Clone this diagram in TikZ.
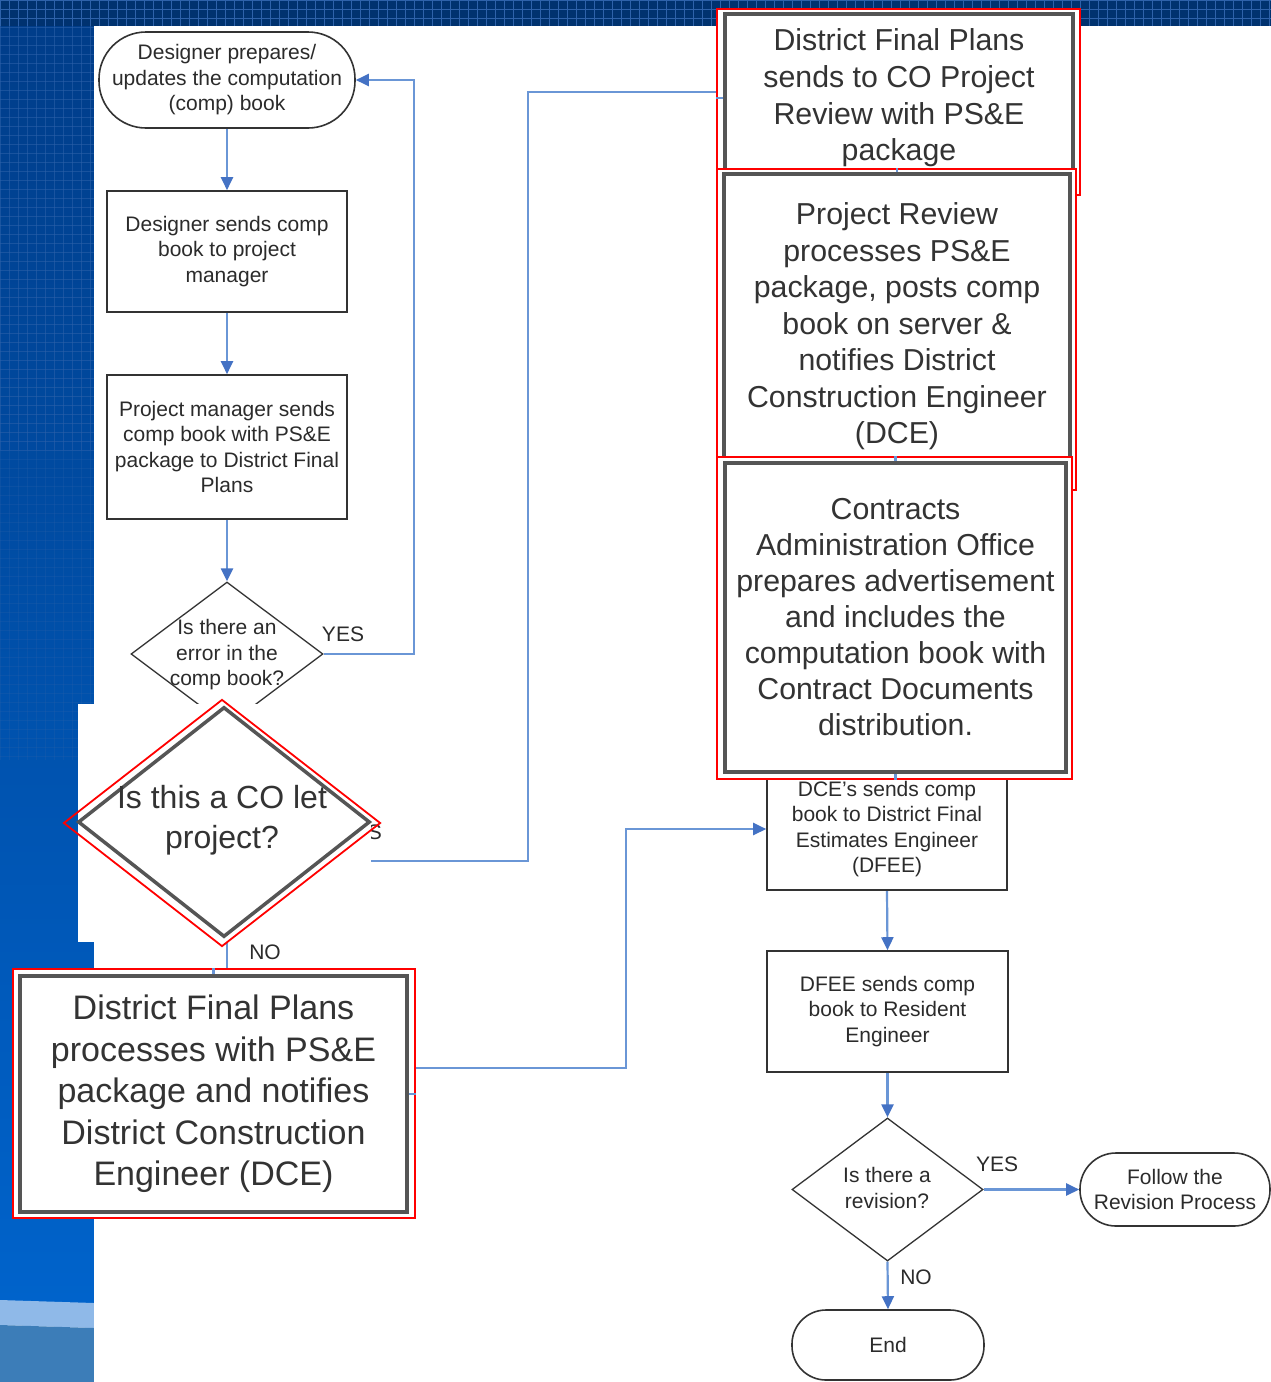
\documentclass[tikz,border=0pt]{standalone}
\usepackage{fontspec}
\setmainfont{Liberation Sans}
\usetikzlibrary{shapes.geometric,arrows.meta,calc}
\pgfdeclarelayer{bgl}\pgfdeclarelayer{conl}\pgfdeclarelayer{front}\pgfdeclarelayer{topl}
\pgfsetlayers{bgl,conl,main,front,topl}
\definecolor{navy}{HTML}{00326F}
\definecolor{gridc}{HTML}{2E62AA}
\definecolor{leftTop}{HTML}{003C88}
\definecolor{leftMid}{HTML}{0054B6}
\definecolor{leftBot}{HTML}{0063CB}
\definecolor{bandc}{HTML}{8FB9E8}
\definecolor{lowc}{HTML}{3C7DB8}
\definecolor{lineblue}{HTML}{6A96D6}
\definecolor{tipblue}{HTML}{4472C4}
\definecolor{boxgray}{HTML}{333333}
\definecolor{txtgray}{HTML}{2B2B2B}
\definecolor{biggray}{HTML}{555555}
\definecolor{bigtxt}{HTML}{333333}
\tikzset{
  smallbox/.style={draw=boxgray, line width=1.6pt, fill=white, inner sep=0pt, align=center, text=txtgray, font=\fontsize{21}{25.5}\selectfont},
  dia/.style={diamond, draw=boxgray, line width=1.3pt, fill=white, inner sep=0pt},
  lbl/.style={text=txtgray, inner sep=0pt, font=\fontsize{21}{25.5}\selectfont},
  conn/.style={draw=lineblue, line width=2.2pt, -{Triangle[length=13pt,width=12pt,color=tipblue]}},
  plainline/.style={draw=lineblue, line width=2.2pt},
  stub/.style={draw=lineblue, line width=2.2pt},
  bigbox/.style={draw=biggray, line width=3.5pt, fill=white, inner sep=0pt, align=center, text=bigtxt},
  redframe/.style={draw=red, line width=2pt, fill=white, inner sep=0pt},
  gridline/.style={draw=gridc, line width=1pt}
}
\begin{document}
\begin{tikzpicture}[x=1pt,y=-1pt]
\useasboundingbox (0,0) rectangle (1271,1382);
% ---------- background ----------
\begin{pgfonlayer}{bgl}
  \shade[top color=leftTop, middle color=leftMid, bottom color=leftBot] (0,0) rectangle (94,1302);
  \fill[navy] (0,0) rectangle (1271,26);
  \foreach \gx in {0,9,...,1271} {\draw[gridline] (\gx,0) -- (\gx,26);}
  \foreach \gy in {0,9,18} {\draw[gridline] (0,\gy) -- (1271,\gy);}
  \foreach \gx in {0,9,...,90} {\draw[gridline, opacity=0.55] (\gx,26) -- (\gx,450);}
  \foreach \gy in {27,36,...,450} {\draw[gridline, opacity=0.55] (0,\gy) -- (94,\gy);}
  \foreach \gx in {0,9,...,90} {\draw[gridline, opacity=0.25] (\gx,450) -- (\gx,760);}
  \foreach \gy in {459,468,...,760} {\draw[gridline, opacity=0.25] (0,\gy) -- (94,\gy);}
  \fill[bandc] (0,1300) -- (94,1303) -- (94,1328) -- (0,1325) -- cycle;
  \fill[lowc] (0,1325) -- (94,1328) -- (94,1382) -- (0,1382) -- cycle;
  \fill[white] (94,26) rectangle (1271,1382);
\end{pgfonlayer}
% ---------- small nodes ----------
\node[smallbox, rounded corners=47, minimum width=256, minimum height=96] (start) at (227,80) {Designer prepares/\\updates the computation\\(comp) book};
\node[smallbox, minimum width=240, minimum height=121] (boxA) at (227,251.5) {Designer sends comp\\book to project\\manager};
\node[smallbox, minimum width=240, minimum height=144] (boxB) at (227,447) {Project manager sends\\comp book with PS\&E\\package to District Final\\Plans};
\node[dia, minimum width=192, minimum height=144] (d1) at (227,654) {};
\node[lbl, align=center] (d1t) at (227,655) {Is there an\\error in the\\comp book?};
\node[lbl] (yes1) at (343,634) {YES};
\node[lbl, anchor=east] (yes2) at (382,832) {YES};
\node[lbl] (no1) at (265,952) {NO};
\node[smallbox, minimum width=240, minimum height=122] (dces) at (887,829) {DCE's sends comp\\book to District Final\\Estimates Engineer\\(DFEE)};
\node[smallbox, minimum width=241, minimum height=121] (dfee) at (887.5,1011.5) {DFEE sends comp\\book to Resident\\Engineer};
\node[dia, minimum width=191, minimum height=143] (d2) at (887.5,1189.5) {};
\node[lbl, align=center] (d2t) at (887,1188) {Is there a\\revision?};
\node[smallbox, rounded corners=36, minimum width=190, minimum height=73] (follow) at (1175,1189.5) {Follow the\\Revision Process};
\node[smallbox, rounded corners=34, minimum width=192, minimum height=70] (endt) at (888,1345) {End};
\node[lbl] (yes3) at (997,1164) {YES};
\node[lbl] (no2) at (916,1277) {NO};
% ---------- enlarged overlays ----------
\begin{pgfonlayer}{front}
  \fill[white] (78,704) rectangle (371,942);
  \node[diamond, draw=biggray, line width=3.5pt, fill=white, minimum width=292, minimum height=230, inner sep=0pt] (dco) at (224,822) {};
  \node[diamond, draw=red, line width=1.8pt, minimum width=317, minimum height=247, inner sep=0pt] (dcor) at (222,823) {};
  \node[inner sep=0pt, text=bigtxt, font=\fontsize{32}{40}\selectfont, align=center] (dcot) at (222,820) {Is this a CO let\\project?};
  \node[redframe, minimum width=402, minimum height=249] (rL) at (214,1093.5) {};
  \node[bigbox, minimum width=387, minimum height=236, font=\fontsize{34}{41.5}\selectfont] (bL) at (213.5,1094) {District Final Plans\\processes with PS\&E\\package and notifies\\District Construction\\Engineer (DCE)};
  \node[redframe, minimum width=363, minimum height=186] (r1) at (898.5,102) {};
  \node[bigbox, minimum width=348, minimum height=168, font=\fontsize{30.3}{36.7}\selectfont] (b1) at (899,98) {District Final Plans\\sends to CO Project\\Review with PS\&E\\package};
  \node[redframe, minimum width=359, minimum height=321] (r2) at (896.5,329.5) {};
  \node[bigbox, minimum width=346, minimum height=305, font=\fontsize{30.3}{36.5}\selectfont] (b2) at (897,326.5) {Project Review\\processes PS\&E\\package, posts comp\\book on server \&\\notifies District\\Construction Engineer\\(DCE)};
  \node[redframe, minimum width=355, minimum height=322] (r3) at (894.5,618) {};
  \node[bigbox, minimum width=341, minimum height=309, font=\fontsize{30.3}{36}\selectfont] (b3) at (895.5,617.5) {Contracts\\Administration Office\\prepares advertisement\\and includes the\\computation book with\\Contract Documents\\distribution.};
\end{pgfonlayer}
% ---------- connectors ----------
\begin{pgfonlayer}{conl}
  \draw[conn] (start.south) -- (boxA.north);
  \draw[conn] (boxA.south) -- (boxB.north);
  \draw[conn] (boxB.south) -- (d1.north);
  \draw[conn] (d1.east) -- (414,654) -- (414,80) -- (start.east);
  \draw[plainline] (d1.south) -- (d1.south |- rL.north);
  \coordinate (coyes) at (323,861);
  \coordinate (y92) at (0,92);
  \draw[plainline] (coyes) -- (528,861) -- (528,92) -- (b1.west |- y92);
  \coordinate (c1068) at (407,1068);
  \draw[conn] (c1068) -- (626,1068) -- (626,829) -- (dces.west);
  \draw[conn] (dces.south) -- (dfee.north);
  \draw[conn] (dfee.south) -- (d2.north);
  \draw[conn] (d2.east) -- (follow.west);
  \draw[conn] (d2.south) -- (endt.north);
\end{pgfonlayer}
% ---------- visible stubs ----------
\begin{pgfonlayer}{topl}
  \draw[stub] (b1.west) -- (b1.west -| r1.west);
  \draw[stub] (b2.north) -- (b2.north |- r2.north);
  \draw[stub] (b3.north) -- (b3.north |- r3.north);
  \draw[stub] (b3.south) -- (b3.south |- r3.south);
  \draw[stub] (bL.north) -- (bL.north |- rL.north);
  \draw[stub] (bL.east) -- (bL.east -| rL.east);
\end{pgfonlayer}
\end{tikzpicture}
\end{document}
